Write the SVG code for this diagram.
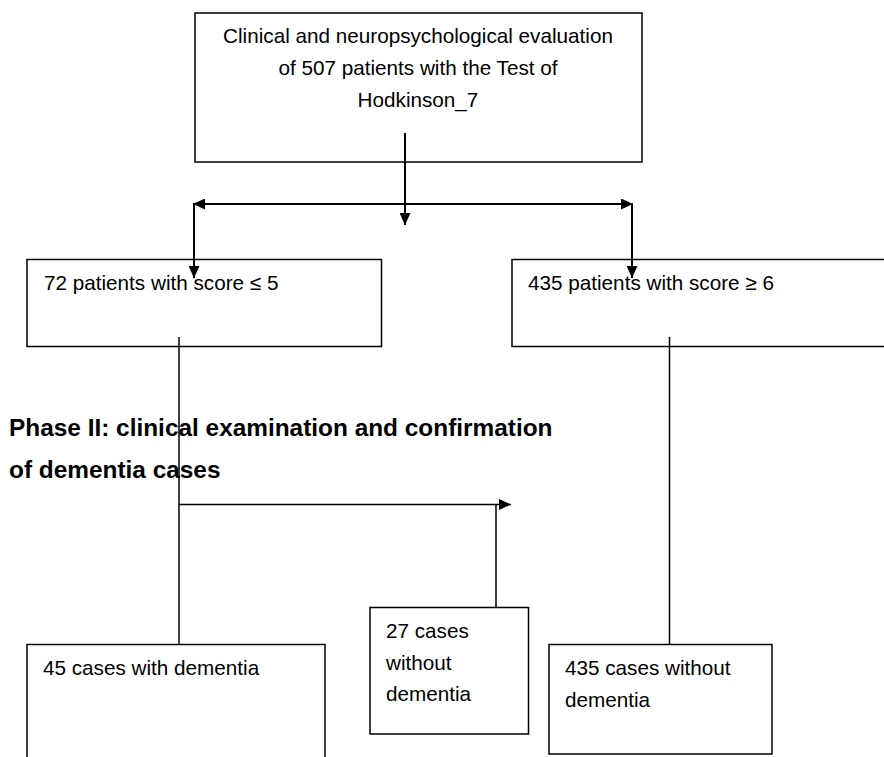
<svg xmlns="http://www.w3.org/2000/svg" width="884" height="757" viewBox="0 0 884 757">
  <style>
    .box { fill: #ffffff; stroke: #000000; stroke-width: 1.5; }
    .t { font-family: "Liberation Sans", Arial, sans-serif; font-size: 20.7px; fill: #000000; }
    .tc { text-anchor: middle; }
    .phase { font-family: "Liberation Sans", Arial, sans-serif; font-size: 24.4px; font-weight: bold; fill: #000000; }
    .c2 { fill: none; stroke: #000000; stroke-width: 2; }
    .c1 { fill: none; stroke: #000000; stroke-width: 1.5; }
  </style>
  <defs>
    <marker id="arrow" markerUnits="userSpaceOnUse" markerWidth="12" markerHeight="11" refX="12" refY="5.5" orient="auto">
      <path d="M0,0 L12,5.5 L0,11 z" fill="#000000"/>
    </marker>
  </defs>
  <rect width="884" height="757" fill="#ffffff"/>

  <g id="nodes">
    <g id="n-evaluation">
      <rect class="box" x="195" y="13" width="447" height="149"/>
      <text class="t tc" x="418" y="43">Clinical and neuropsychological evaluation</text>
      <text class="t tc" x="418" y="75">of 507 patients with the Test of</text>
      <text class="t tc" x="418" y="107">Hodkinson_7</text>
    </g>
    <g id="n-score-low">
      <rect class="box" x="27" y="259.5" width="354.5" height="87"/>
      <text class="t" x="44" y="290">72 patients with score ≤ 5</text>
    </g>
    <g id="n-score-high">
      <rect class="box" x="512" y="259.5" width="380" height="87"/>
      <text class="t" x="528" y="290">435 patients with score ≥ 6</text>
    </g>
    <g id="n-with-dementia">
      <rect class="box" x="27" y="644.5" width="298" height="130"/>
      <text class="t" x="43" y="675">45 cases with dementia</text>
    </g>
    <g id="n-27-without">
      <rect class="box" x="370" y="607.5" width="158.5" height="126.5"/>
      <text class="t" x="386" y="638">27 cases</text>
      <text class="t" x="386" y="670">without</text>
      <text class="t" x="386" y="701">dementia</text>
    </g>
    <g id="n-435-without">
      <rect class="box" x="549" y="644.5" width="223" height="109.5"/>
      <text class="t" x="565" y="675">435 cases without</text>
      <text class="t" x="565" y="707">dementia</text>
    </g>
  </g>

  <g id="phase-label">
    <text class="phase" x="9" y="436">Phase II: clinical examination and confirmation</text>
    <text class="phase" x="9" y="478">of dementia cases</text>
  </g>

  <g id="connectors">
    <path class="c2" d="M405,133 L405,225" marker-end="url(#arrow)"/>
    <path class="c2" d="M405,204 L193,204" marker-end="url(#arrow)"/>
    <path class="c2" d="M405,204 L633,204" marker-end="url(#arrow)"/>
    <path class="c2" d="M194,204 L194,278" marker-end="url(#arrow)"/>
    <path class="c2" d="M632,204 L632,278" marker-end="url(#arrow)"/>
    <path class="c1" d="M179,337 L179,644.5"/>
    <path class="c1" d="M669.5,337 L669.5,644.5"/>
    <path class="c1" d="M179,504.5 L511,504.5" marker-end="url(#arrow)"/>
    <path class="c1" d="M496,504.5 L496,607.5"/>
  </g>
</svg>
